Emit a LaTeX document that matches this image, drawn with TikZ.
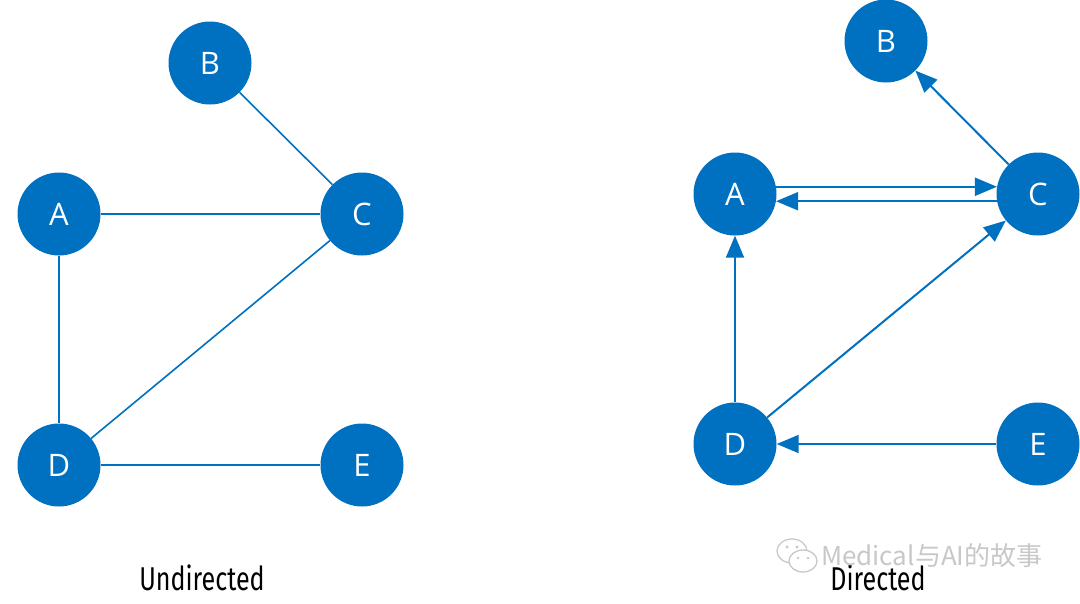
\documentclass[tikz,border=0pt]{standalone}
\usepackage{fontspec}
\setmainfont{Open Sans}
\newfontfamily\labelfont{Fira Sans}
\newfontfamily\cjkfont{Noto Sans CJK SC}
\usetikzlibrary{arrows.meta}
\definecolor{nodeblue}{RGB}{0,112,192}
\definecolor{wmgray}{RGB}{200,200,200}
\tikzset{
  vert/.style={circle, fill=nodeblue, draw=none, minimum size=83pt, inner sep=0pt,
    text=white, font=\fontsize{31}{31}\selectfont},
  uedge/.style={draw=nodeblue, line width=1.6pt},
  dedge/.style={draw=nodeblue, line width=2pt, -{Triangle[length=22pt,width=18pt]}},
  caption/.style={font=\labelfont\fontsize{33}{33}\selectfont, text=black},
}
\begin{document}
\begin{tikzpicture}[x=1pt,y=-1pt]
\useasboundingbox[fill=white] (0,0) rectangle (1080,603);
% Undirected
\node[vert] (uB) at (210,63) {B};
\node[vert] (uA) at (59,214) {A};
\node[vert] (uC) at (362,214) {C};
\node[vert] (uD) at (59,465) {D};
\node[vert] (uE) at (362,465) {E};
\draw[uedge] (uB) -- (uC);
\draw[uedge] (uA) -- (uC);
\draw[uedge] (uA) -- (uD);
\draw[uedge] (uD) -- (uC);
\draw[uedge] (uD) -- (uE);
\node[caption] (ucap) at (202,578) {\scalebox{0.76}[1]{Undirected}};
% Directed
\node[vert] (dB) at (886,41) {B};
\node[vert] (dA) at (735,194) {A};
\node[vert] (dC) at (1038,194) {C};
\node[vert] (dD) at (735,444) {D};
\node[vert] (dE) at (1038,444) {E};
\draw[dedge] (dC) -- (dB);
\draw[dedge] (dA.10) -- (dC.170);
\draw[dedge] (dC.190) -- (dA.350);
\draw[dedge] (dD) -- (dA);
\draw[dedge] (dD) -- (dC);
\draw[dedge] (dE) -- (dD);
\node[caption] (dcap) at (878,578) {\scalebox{0.76}[1]{Directed}};
% watermark
\node[text=wmgray, font=\cjkfont\fontsize{26}{26}\selectfont, anchor=west, inner sep=0pt] (wm) at (821,556) {Medical与AI的故事};
\draw[wmgray, line width=1.3pt] (792,551) ellipse (15pt and 12pt);
\fill[white] (803,561) ellipse (14pt and 11pt);
\draw[wmgray, line width=1.3pt] (803,561) ellipse (14pt and 11pt);
\fill[wmgray] (787,547) circle (1.6pt) (797,547) circle (1.6pt);
\fill[wmgray] (798,558) circle (1.4pt) (808,558) circle (1.4pt);
\end{tikzpicture}
\end{document}
